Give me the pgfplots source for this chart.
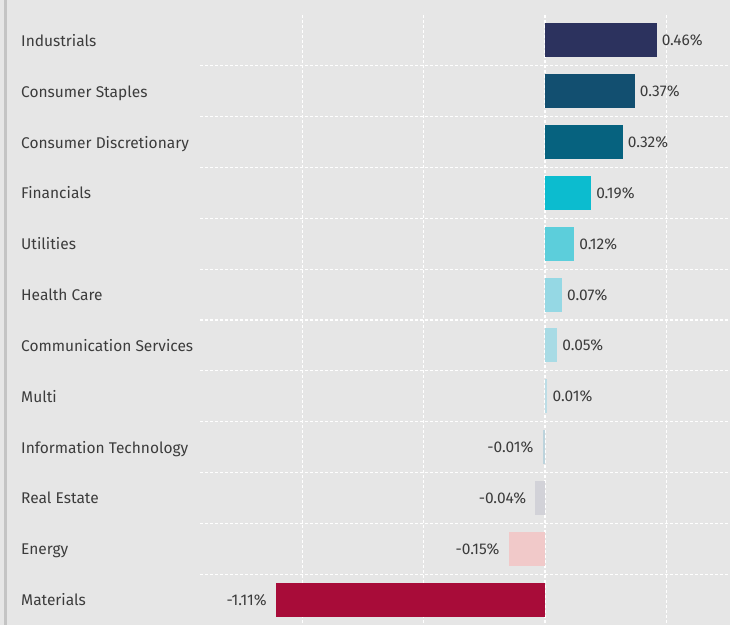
\documentclass[border=0pt]{standalone}
\usepackage{pgfplots}
\pgfplotsset{compat=1.18}
\usepackage{fontspec}
\setmainfont{Fira Sans}
\definecolor{bg}{HTML}{E6E6E6}
\definecolor{borderc}{HTML}{C4C4C4}
\definecolor{txt}{HTML}{3C3C3C}
\definecolor{c1}{HTML}{2C325E}
\definecolor{c2}{HTML}{124F70}
\definecolor{c3}{HTML}{06627F}
\definecolor{c4}{HTML}{0CBCCF}
\definecolor{c5}{HTML}{5CCEDB}
\definecolor{c6}{HTML}{95D8E4}
\definecolor{c7}{HTML}{A8DBE5}
\definecolor{c8}{HTML}{BCDDE6}
\definecolor{c9}{HTML}{BCD3DC}
\definecolor{c10}{HTML}{D2D2D8}
\definecolor{c11}{HTML}{F1C9C9}
\definecolor{c12}{HTML}{A80C39}
\newcommand{\lblfont}{\fontsize{15.5}{18}\selectfont}
\newcommand{\vallbl}{\pgfmathprintnumber[fixed,fixed zerofill,precision=2,assume math mode=true]{\pgfplotspointmeta}\%}
\begin{document}
\begin{tikzpicture}
\fill[bg] (-200pt,0) rectangle (530pt,625pt);
\fill[borderc] (-196pt,0) rectangle (-193pt,625pt);
\begin{axis}[
  at={(0,0)}, anchor=south west,
  width=530pt, height=610pt, scale only axis,
  xmin=-1.4227, xmax=0.7629,
  ymin=-0.5, ymax=11.5, y dir=reverse,
  xbar, bar width=34pt, bar shift=0pt,
  axis line style={draw=none},
  tick style={draw=none},
  major tick length=0pt, minor tick length=0pt,
  xtick={-1,-0.5,0,0.5}, xticklabels={},
  xmajorgrids,
  ytick={0,...,11},
  yticklabels={Industrials,Consumer Staples,Consumer Discretionary,Financials,Utilities,Health Care,Communication Services,Multi,Information Technology,Real Estate,Energy,Materials},
  minor ytick={0.5,1.5,...,10.5},
  yminorgrids, ymajorgrids=false,
  major grid style={white, line width=1.2pt, dash pattern=on 3pt off 2pt},
  minor grid style={white, line width=1.2pt, dash pattern=on 3pt off 2pt},
  yticklabel style={anchor=west, xshift=-179pt, yshift=-2pt, inner sep=0pt, font=\lblfont, text=txt, text height=11pt, text depth=3pt},
  point meta=x,
  nodes near coords style={font=\lblfont, text=txt, text height=11pt, text depth=3pt, yshift=-1.5pt},
  pos/.style={fill=#1, draw=none, nodes near coords={\vallbl}, every node near coord/.append style={anchor=west, inner sep=0pt, xshift=5pt}},
  neg/.style={fill=#1, draw=none, nodes near coords={\vallbl}, every node near coord/.append style={anchor=east, inner sep=0pt, xshift=-9pt}},
]
\addplot[pos=c1] coordinates {(0.46,0)};
\addplot[pos=c2] coordinates {(0.37,1)};
\addplot[pos=c3] coordinates {(0.32,2)};
\addplot[pos=c4] coordinates {(0.19,3)};
\addplot[pos=c5] coordinates {(0.12,4)};
\addplot[pos=c6] coordinates {(0.07,5)};
\addplot[pos=c7] coordinates {(0.05,6)};
\addplot[pos=c8] coordinates {(0.01,7)};
\addplot[neg=c9] coordinates {(-0.01,8)};
\addplot[neg=c10] coordinates {(-0.04,9)};
\addplot[neg=c11] coordinates {(-0.15,10)};
\addplot[neg=c12] coordinates {(-1.11,11)};
\end{axis}
\pgfresetboundingbox
\useasboundingbox (-200pt,0) rectangle (530pt,625pt);
\end{tikzpicture}
\end{document}
